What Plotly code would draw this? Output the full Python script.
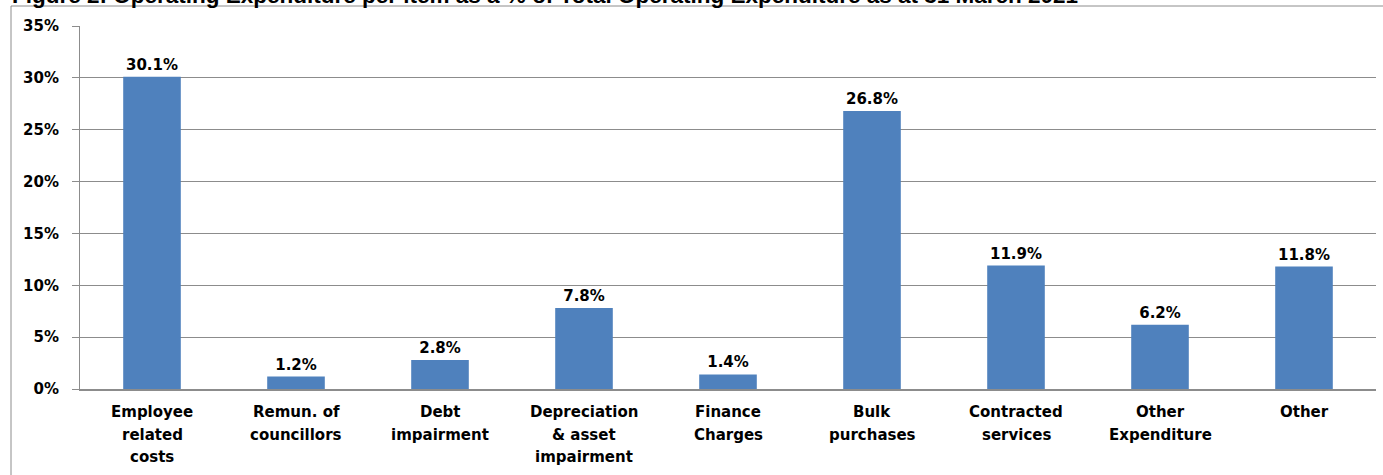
import plotly.graph_objects as go

# Operating expenditure per item, % of total operating expenditure
categories = [
    "Employee<br>related<br>costs",
    "Remun. of<br>councillors",
    "Debt<br>impairment",
    "Depreciation<br>& asset<br>impairment",
    "Finance<br>Charges",
    "Bulk<br>purchases",
    "Contracted<br>services",
    "Other<br>Expenditure",
    "Other",
]
shares = [30.1, 1.2, 2.8, 7.8, 1.4, 26.8, 11.9, 6.2, 11.8]
y_ticks = [0, 5, 10, 15, 20, 25, 30, 35]

title_text = ("Figure 2: Operating Expenditure per item as a % of Total "
              "Operating Expenditure as at 31 March 2021")

W, H = 1383, 475
ML, MR, MT, MB = 80, 7, 26, 86
plot_w = W - ML - MR
plot_h = H - MT - MB

GRID = "#8c8c8c"
FONT = dict(family="DejaVu Sans", size=15, color="#000000", weight="bold")

x_idx = list(range(len(categories)))

fig = go.Figure(
    go.Bar(
        x=x_idx,
        y=shares,
        marker=dict(color="#4F81BD", line=dict(width=0)),
        text=[f"{v:.1f}%" for v in shares],
        textposition="outside",
        textfont=FONT,
        cliponaxis=False,
        hoverinfo="skip",
    )
)

annotations = []
# multi-line category labels under each bar
for i, lab in enumerate(categories):
    for j, line in enumerate(lab.split("<br>")):
        annotations.append(dict(
            x=i, xref="x", y=0, yref="paper",
            text=line, showarrow=False, font=FONT,
            xanchor="center", yanchor="middle",
            yshift=-(23 + 22.5 * j),
        ))

# figure caption sitting above the chart frame
annotations.append(dict(
    x=(10 - ML) / plot_w, xref="paper",
    y=(H - MB - 10) / plot_h, yref="paper",
    text=title_text, showarrow=False,
    font=dict(family="Liberation Sans", size=22.5, color="#000000", weight="bold"),
    xanchor="left", yanchor="bottom",
))

# outer frame around the chart
shapes = [dict(
    type="rect", xref="paper", yref="paper",
    x0=(11 - ML) / plot_w, x1=(W + 20 - ML) / plot_w,
    y0=(H - MB - (H + 20)) / plot_h, y1=(H - MB - 6) / plot_h,
    line=dict(color="#8c8c8c", width=1), fillcolor="rgba(0,0,0,0)",
    layer="below",
)]

fig.update_layout(
    width=W, height=H,
    margin=dict(l=ML, r=MR, t=MT, b=MB, pad=0),
    paper_bgcolor="white", plot_bgcolor="white",
    showlegend=False,
    bargap=0.6,
    annotations=annotations,
    shapes=shapes,
    xaxis=dict(
        range=[-0.5, len(categories) - 0.5],
        showticklabels=False, ticks="", showgrid=False, zeroline=False,
        showline=True, linecolor=GRID, linewidth=2,
    ),
    yaxis=dict(
        range=[0, 35], tickvals=y_ticks, ticktext=[f"{v}%" for v in y_ticks],
        showgrid=True, gridcolor=GRID, gridwidth=1, zeroline=False,
        showline=True, linecolor=GRID, linewidth=1,
        ticks="outside", ticklen=7, tickcolor=GRID,
        tickfont=FONT, ticklabelstandoff=10,
    ),
)

fig.write_html("out.html")
